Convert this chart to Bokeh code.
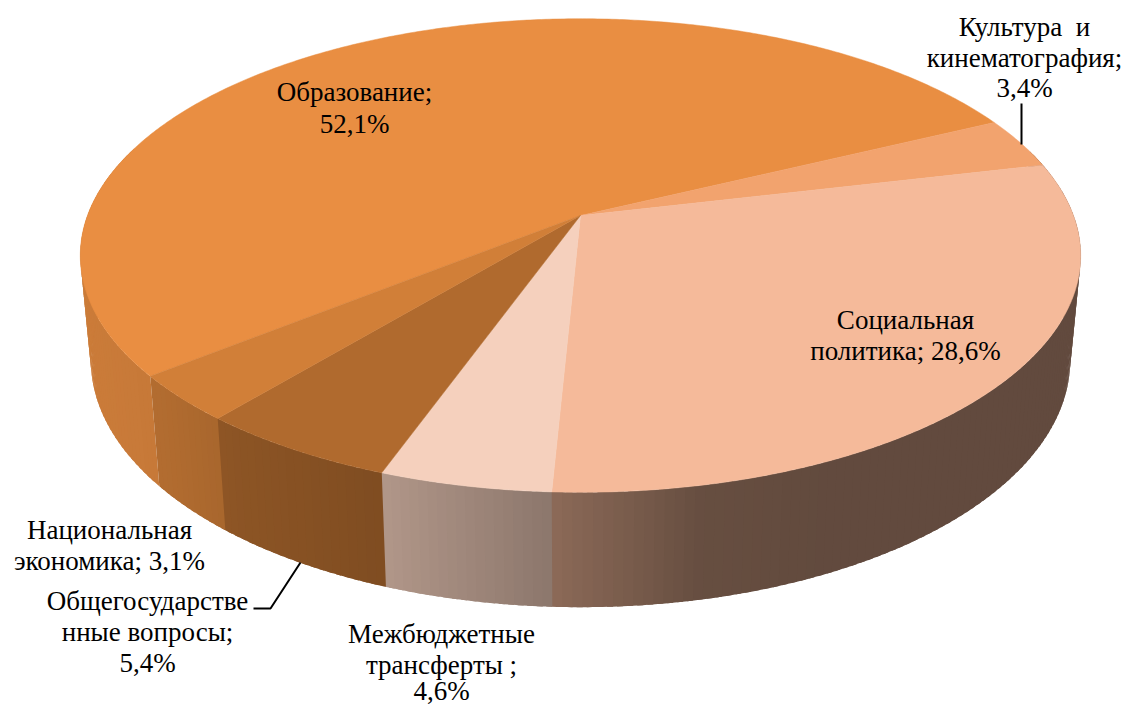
import numpy as np
from bokeh.plotting import figure
from bokeh.models import Range1d
from bokeh.core.properties import value
from bokeh.embed import file_html
from bokeh.resources import INLINE

# --- data ---
categories = ["Образование", "Культура и кинематография", "Социальная политика",
              "Межбюджетные трансферты", "Общегосударственные вопросы", "Национальная экономика"]
shares = [52.1, 3.4, 28.6, 4.6, 5.4, 3.1]
top_colors = ["#E98E42", "#F2A36E", "#F5BA9A", "#F5D0BD", "#B06A2E", "#D17F38"]

label_lines = ["Образование;", "52,1%",
               "Культура\u00a0\u00a0и", "кинематография;", "3,4%",
               "Социальная", "политика; 28,6%",
               "Национальная", "экономика; 3,1%",
               "Общегосударстве", "нные вопросы;", "5,4%",
               "Межбюджетные", "трансферты ;", "4,6%"]
label_x = [354, 354, 1024, 1024, 1024, 905, 905, 109, 109, 147, 147, 147, 441, 441, 441]
label_y = [91, 123, 26, 57, 87, 319, 350, 529, 560, 600, 631, 662, 633, 664, 690]

# --- projection of the disc (perspective) ---
CX, CY, R, RY, K = 580.0, 215.0, 493.0, 230.0, 0.169
START = 231.3
SX, D0, SY = 0.979, 103.0, 0.043


def top(theta):
    t = np.radians(theta)
    w = 1 + K * np.cos(t)
    return CX + R * np.sin(t) / w, CY - RY * np.cos(t) / w


def bottom(theta):
    x, y = top(theta)
    return CX + SX * (x - CX), y + D0 + SY * (y - CY)


def shade(x):
    return np.interp(x, [80, 160, 226, 386, 552, 700, 820, 1090],
                     [0.87, 0.85, 0.80, 0.72, 0.57, 0.42, 0.40, 0.40])


def scaled(hex_color, f):
    rgb = [int(hex_color[i:i + 2], 16) for i in (1, 3, 5)]
    return "#%02x%02x%02x" % tuple(int(round(c * f)) for c in rgb)


fr = np.array(shares) / sum(shares) * 360.0
edges = START + np.concatenate([[0], np.cumsum(fr)])

p = figure(width=1123, height=704, x_range=Range1d(0, 1123), y_range=Range1d(704, 0),
           toolbar_location=None, output_backend="svg", min_border=0)
p.axis.visible = False
p.grid.visible = False
p.outline_line_color = None

# sides: narrow bands, each running a little under the next one
OVER = 0.6
sx, sy, sc = [], [], []
for i, (a0, a1, col) in enumerate(zip(edges[:-1], edges[1:], top_colors)):
    n = max(1, int(np.ceil((a1 - a0) / 1.0)))
    th = np.linspace(a0, a1, n + 1)
    for t0, t1 in zip(th[:-1], th[1:]):
        c = np.cos(np.radians((t0 + t1) / 2))
        if c > 0.3:
            continue
        end = t1 if (i == len(shares) - 1 and t1 == th[-1]) else t1 + OVER
        arc = np.linspace(t0, end, 4)
        xt, yt = top(arc)
        xb, yb = bottom(arc[::-1])
        sx.append(list(xt) + list(xb))
        sy.append(list(yt) + list(yb))
        sc.append(scaled(col, float(shade(top((t0 + t1) / 2)[0]))))
p.patches(sx, sy, fill_color=sc, line_color=None)

# top face
tx, ty = [], []
for a0, a1 in zip(edges[:-1], edges[1:]):
    th = np.linspace(a0, a1, max(8, int(a1 - a0) * 2))
    x, y = top(th)
    tx.append([CX] + list(x))
    ty.append([CY] + list(y))
p.patches(tx, ty, fill_color=top_colors, line_color=top_colors, line_width=0.5)

# leader lines
p.line([1021, 1021], [103, 144], line_color="#000000", line_width=2)
p.line([300, 270, 253], [562, 608, 608], line_color="#000000", line_width=2)

# labels
p.text(label_x, label_y, text=label_lines, text_font=value("Liberation Serif"),
       text_font_size="27px", text_color="#000000",
       text_align="center", text_baseline="middle")

open("out.html", "w").write(file_html(p, INLINE))
